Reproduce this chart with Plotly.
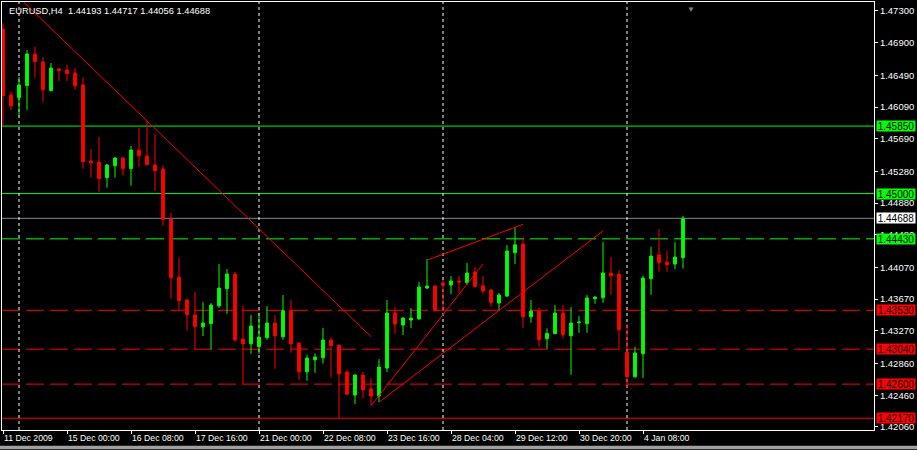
import plotly.graph_objects as go

symbol_title = "EURUSD,H4  1.44193 1.44717 1.44056 1.44688"

open_ = [1.47073, 1.46242, 1.46208, 1.46359, 1.46758, 1.46657, 1.46296, 1.46569, 1.46557, 1.46519,
         1.46368, 1.45410, 1.45397, 1.45200, 1.45351, 1.45448, 1.45313, 1.45549, 1.45473, 1.45360,
         1.45309, 1.44675, 1.43948, 1.43659, 1.43470, 1.43322, 1.43360, 1.43587, 1.43801, 1.43986,
         1.43167, 1.43108, 1.43070, 1.43184, 1.43369, 1.43196, 1.43528, 1.43117, 1.42755, 1.42906,
         1.42932, 1.43155, 1.43092, 1.42751, 1.42462, 1.42714, 1.42541, 1.42449, 1.42802, 1.43495,
         1.43344, 1.43407, 1.43419, 1.43810, 1.43835, 1.43873, 1.43848, 1.43898, 1.43877, 1.44011,
         1.43839, 1.43785, 1.43621, 1.43709, 1.44255, 1.44364, 1.43448, 1.43520, 1.43171, 1.43234,
         1.43495, 1.43209, 1.43373, 1.43360, 1.43675, 1.43688, 1.43999, 1.43986, 1.43003, 1.42692,
         1.42982, 1.43927, 1.44226, 1.44137, 1.44112, 1.44193]
high = [1.47145, 1.46283, 1.46468, 1.46809, 1.46850, 1.46720, 1.46645, 1.46578, 1.46620, 1.46578,
        1.46465, 1.45561, 1.45712, 1.45372, 1.45460, 1.45464, 1.45599, 1.45830, 1.45914, 1.45750,
        1.45360, 1.44759, 1.44188, 1.43670, 1.43759, 1.43633, 1.43621, 1.44112, 1.44049, 1.44011,
        1.43583, 1.43470, 1.43495, 1.43583, 1.43470, 1.43722, 1.43659, 1.43117, 1.42969, 1.42987,
        1.43306, 1.43184, 1.43092, 1.42777, 1.42726, 1.42751, 1.42676, 1.42915, 1.43659, 1.43570,
        1.43444, 1.43558, 1.43885, 1.44175, 1.43848, 1.43911, 1.43961, 1.43961, 1.44125, 1.44074,
        1.43961, 1.43797, 1.43747, 1.44352, 1.44566, 1.44449, 1.43659, 1.43562, 1.43302, 1.43596,
        1.43596, 1.43570, 1.43457, 1.43722, 1.43709, 1.44389, 1.44200, 1.44037, 1.43356, 1.43070,
        1.43965, 1.44330, 1.44553, 1.44276, 1.44389, 1.44717]
low = [1.45864, 1.46053, 1.45964, 1.46053, 1.46460, 1.46157, 1.46290, 1.46418, 1.46418, 1.46308,
       1.45313, 1.45200, 1.45023, 1.45074, 1.45200, 1.45225, 1.45099, 1.45338, 1.45363, 1.45036,
       1.44595, 1.43675, 1.43533, 1.43272, 1.43037, 1.43205, 1.43037, 1.43562, 1.43486, 1.43133,
       1.42598, 1.42982, 1.42982, 1.43158, 1.42793, 1.43158, 1.42995, 1.42654, 1.42642, 1.42743,
       1.42856, 1.42680, 1.42176, 1.42462, 1.42348, 1.42424, 1.42336, 1.42373, 1.42751, 1.43230,
       1.43218, 1.43306, 1.43419, 1.43797, 1.43524, 1.43524, 1.43734, 1.43747, 1.43848, 1.43826,
       1.43734, 1.43574, 1.43533, 1.43696, 1.44112, 1.43310, 1.43373, 1.43070, 1.43045, 1.43234,
       1.43171, 1.42717, 1.43247, 1.43247, 1.43612, 1.43625, 1.43725, 1.43045, 1.42554, 1.42680,
       1.42680, 1.43725, 1.44015, 1.44015, 1.44049, 1.44056]
close = [1.46233, 1.46107, 1.46368, 1.46758, 1.46661, 1.46308, 1.46582, 1.46548, 1.46510, 1.46359,
         1.45401, 1.45389, 1.45187, 1.45360, 1.45448, 1.45313, 1.45549, 1.45477, 1.45363, 1.45288,
         1.44675, 1.43940, 1.43650, 1.43473, 1.43322, 1.43369, 1.43596, 1.43810, 1.43986, 1.43158,
         1.43108, 1.43331, 1.43192, 1.43369, 1.43209, 1.43524, 1.43108, 1.42755, 1.42928, 1.42940,
         1.43155, 1.43083, 1.42730, 1.42474, 1.42714, 1.42525, 1.42449, 1.42814, 1.43495, 1.43356,
         1.43432, 1.43432, 1.43822, 1.43835, 1.43524, 1.43851, 1.43898, 1.43885, 1.43999, 1.43826,
         1.43772, 1.43625, 1.43722, 1.44276, 1.44355, 1.43448, 1.43520, 1.43158, 1.43239, 1.43495,
         1.43221, 1.43369, 1.43381, 1.43684, 1.43696, 1.43999, 1.43965, 1.43284, 1.42692, 1.42991,
         1.43936, 1.44213, 1.44129, 1.44103, 1.44200, 1.44688]

bar_index = list(range(len(open_)))

time_tick_bars = [0, 8, 16, 24, 32, 40, 48, 56, 64, 72, 80]
time_tick_labels = ["11 Dec 2009", "15 Dec 00:00", "16 Dec 08:00", "17 Dec 16:00", "21 Dec 00:00",
                    "22 Dec 08:00", "23 Dec 16:00", "28 Dec 04:00", "29 Dec 12:00", "30 Dec 20:00",
                    "4 Jan 08:00"]
week_separator_bars = [2, 32, 55, 78]

price_ticks = [1.47300, 1.46900, 1.46490, 1.46090, 1.45690, 1.45280, 1.44880, 1.44480,
               1.44070, 1.43670, 1.43270, 1.42860, 1.42460, 1.42060]

level_prices = [1.45850, 1.45000, 1.44430, 1.43530, 1.43040, 1.42600, 1.42170]
level_colors = ["#00ff00", "#00ff00", "#00ff00", "#ff0000", "#ff0000", "#ff0000", "#ff0000"]
level_dashed = [False, False, True, True, True, True, False]
bid_price = 1.44688

trend_x0 = [2.575, 46.0, 47.1, 53.1]
trend_y0 = [1.47413, 1.42328, 1.42379, 1.44164]
trend_x1 = [46.0, 60.0, 75.0, 65.0]
trend_y1 = [1.43197, 1.44113, 1.44529, 1.44613]

fig = go.Figure()

fig.add_trace(go.Candlestick(
    x=bar_index, open=open_, high=high, low=low, close=close,
    increasing=dict(line=dict(color="#00ff00", width=1), fillcolor="#00ff00"),
    decreasing=dict(line=dict(color="#ff0000", width=1), fillcolor="#ff0000"),
    whiskerwidth=0, showlegend=False, hoverinfo="skip"))

for a, b, c, d in zip(trend_x0, trend_y0, trend_x1, trend_y1):
    fig.add_trace(go.Scatter(x=[a, c], y=[b, d], mode="lines",
                             line=dict(color="#ff0000", width=1),
                             showlegend=False, hoverinfo="skip"))

shapes = []
for p, col, dsh in zip(level_prices, level_colors, level_dashed):
    shapes.append(dict(type="line", xref="paper", x0=0, x1=1, yref="y", y0=p, y1=p,
                       line=dict(color=col, width=1, dash="18px,6px" if dsh else "solid"),
                       layer="below"))
shapes.append(dict(type="line", xref="paper", x0=0, x1=1, yref="y", y0=bid_price, y1=bid_price,
                   line=dict(color="#778899", width=1), layer="below"))
for b in week_separator_bars:
    shapes.append(dict(type="line", xref="x", x0=b, x1=b, yref="paper", y0=0, y1=1,
                       line=dict(color="#ffffff", width=1, dash="3px,3px"), layer="below"))
shapes.append(dict(type="rect", xref="paper", x0=-0.01, x1=1.06, yref="paper", y0=-0.045, y1=-0.037,
                   fillcolor="#a0a0a0", line=dict(width=0)))

annotations = [dict(text=symbol_title, xref="paper", yref="paper", x=0, y=1, xanchor="left",
                    yanchor="top", xshift=5, yshift=-2, showarrow=False,
                    font=dict(color="#ffffff", size=9.3, family="Liberation Sans, Arial"))]
for p, col in zip(level_prices + [bid_price], level_colors + ["#ffffff"]):
    annotations.append(dict(text=f"{p:.5f}", xref="paper", yref="y", x=1, y=p, xanchor="left",
                            yanchor="middle", xshift=2, showarrow=False, bgcolor=col,
                            width=38, height=10, borderpad=0, align="center",
                            font=dict(color="#000000", size=10, family="Liberation Sans, Arial")))
annotations.append(dict(text="▼", xref="paper", yref="paper", x=0.797, y=1, yanchor="top",
                        yshift=1, showarrow=False, font=dict(color="#808080", size=8)))

fig.update_layout(
    width=917, height=450,
    margin=dict(l=2, r=43, t=2, b=20),
    paper_bgcolor="#000000", plot_bgcolor="#000000",
    boxgap=0.5,
    shapes=shapes, annotations=annotations,
    xaxis=dict(range=[-0.125, 108.875], rangeslider=dict(visible=False),
               tickmode="array", tickvals=time_tick_bars, ticktext=time_tick_labels,
               ticks="outside", ticklen=3, tickcolor="#ffffff", tickangle=0,
               ticklabelposition="outside right",
               tickfont=dict(color="#ffffff", size=8.7, family="Liberation Sans, Arial"),
               showgrid=False, zeroline=False, showline=True, linecolor="#ffffff",
               linewidth=1, mirror=True),
    yaxis=dict(range=[1.42022, 1.47413], side="right",
               tickmode="array", tickvals=price_ticks,
               ticktext=[f"{v:.5f}" for v in price_ticks],
               ticks="outside", ticklen=3, tickcolor="#ffffff",
               tickfont=dict(color="#ffffff", size=9.5, family="Liberation Sans, Arial"),
               showgrid=False, zeroline=False, showline=True, linecolor="#ffffff",
               linewidth=1, mirror=True),
)

fig.write_html("out.html", config={"displayModeBar": False},
               post_script="document.body.style.margin='0';document.body.style.overflow='hidden';"
                           "document.body.style.background='#000';")
